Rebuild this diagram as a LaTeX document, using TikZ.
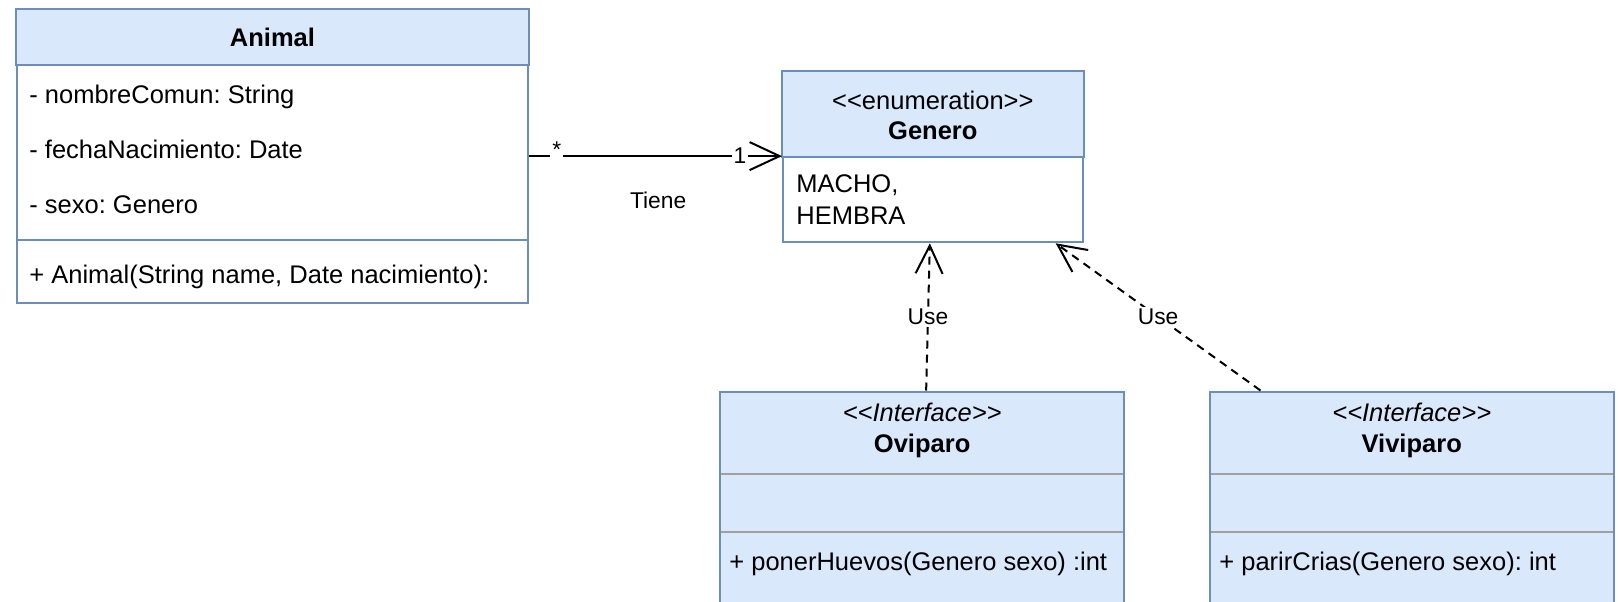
\documentclass[tikz,border=0pt]{standalone}
\usepackage{fontspec}
\setmainfont{Liberation Sans}[Ligatures=TeXOff]
\usetikzlibrary{arrows.meta}
\frenchspacing
\definecolor{umlfill}{HTML}{DAE8FC}
\definecolor{umlline}{HTML}{6C8EBF}
\definecolor{sepgray}{HTML}{A0A0A0}
\newcommand{\bodyfnt}{\fontsize{12.75}{15.3}\selectfont}
\newcommand{\lblfnt}{\fontsize{11.4}{13.6}\selectfont}
\begin{document}
\begin{tikzpicture}[x=0.5pt,y=-0.5pt,
  every node/.style={font=\bodyfnt, text=black},
  umlbox/.style={draw=umlline, line width=1pt, rectangle, inner sep=0pt},
  headbox/.style={draw=umlline, fill=umlfill, line width=1pt},
  sepline/.style={draw=sepgray, line width=1pt},
  txt/.style={anchor=base west, inner sep=0pt},
  ctxt/.style={anchor=base, inner sep=0pt},
  lbl/.style={font=\lblfnt, fill=white, inner sep=1pt},
  plainlbl/.style={font=\lblfnt, inner sep=1pt},
  assoc/.style={draw=black, line width=1pt, -{Straight Barb[length=15pt,width=14pt]}},
  dep/.style={draw=black, line width=1pt, dash pattern=on 4pt off 3pt, -{Straight Barb[length=14pt,width=13.5pt]}}]
\useasboundingbox (0,0) rectangle (1624,601);
\clip (0,0) rectangle (1624,601);

% boxes
\node[umlbox, fill=white, minimum width=255.8pt, minimum height=146.6pt] (animal) at (272.5,156.1) {};
\node[umlbox, fill=white, minimum width=149.85pt, minimum height=85.4pt] (genero) at (932.85,156.9) {};
\node[umlbox, fill=umlfill, minimum width=202.15pt, minimum height=124.25pt] (ovi) at (922.15,515.75) {};
\node[umlbox, fill=umlfill, minimum width=202.25pt, minimum height=124.25pt] (vivi) at (1411.75,515.75) {};

% headers and separators
\draw[headbox] (animal.north west) rectangle (animal.east |- 0,64.5);
\draw[umlbox] (animal.west |- 0,240) -- (animal.east |- 0,240);
\draw[headbox] (genero.north west) rectangle (genero.east |- 0,156.9);

\draw[sepline] ([xshift=1pt]ovi.west |- 0,474.4) -- ([xshift=-1pt]ovi.east |- 0,474.4);
\draw[sepline] ([xshift=1pt]ovi.west |- 0,532.4) -- ([xshift=-1pt]ovi.east |- 0,532.4);
\draw[sepline] ([xshift=1pt]vivi.west |- 0,474.4) -- ([xshift=-1pt]vivi.east |- 0,474.4);
\draw[sepline] ([xshift=1pt]vivi.west |- 0,532.4) -- ([xshift=-1pt]vivi.east |- 0,532.4);

% Animal texts
\node[ctxt, font=\bodyfnt\bfseries] (animaltitle) at (272.5,46) {Animal};
\node[txt] (attr1) at (29,103) {- nombreComun: String};
\node[txt] (attr2) at (29,158) {- fechaNacimiento: Date};
\node[txt] (attr3) at (29,213) {- sexo: Genero};
\node[txt] (meth1) at (29,283) {+ Animal(String name, Date nacimiento):};

% Genero texts
\node[ctxt] (genstereo) at (932.85,109) {<<enumeration>>};
\node[ctxt, font=\bodyfnt\bfseries] (gentitle) at (932.85,139) {Genero};
\node[txt] (lit1) at (796,192) {MACHO,};
\node[txt] (lit2) at (796,224) {HEMBRA};

% Oviparo texts
\node[ctxt, font=\bodyfnt\itshape] (ovistereo) at (922.15,421.7) {<<Interface>>};
\node[ctxt, font=\bodyfnt\bfseries] (ovititle) at (922.15,452.3) {Oviparo};
\node[txt] (ovimeth) at (729,570.5) {+ ponerHuevos(Genero sexo) :int};

% Viviparo texts
\node[ctxt, font=\bodyfnt\itshape] (vivistereo) at (1411.75,421.7) {<<Interface>>};
\node[ctxt, font=\bodyfnt\bfseries] (vivititle) at (1411.75,452.3) {Viviparo};
\node[txt] (vivimeth) at (1219,570.5) {+ parirCrias(Genero sexo): int};

% connectors
\draw[assoc] (animal.east) -- (animal.east -| genero.west)
  node[lbl, pos=0.109, yshift=3pt] {*}
  node[lbl, pos=0.834] {1}
  node[plainlbl, pos=0.51, yshift=-22pt] {Tiene};
\draw[dep] ([xshift=2pt]ovi.north) -- ([xshift=-1.5pt]genero.south)
  node[lbl, pos=0.5] {Use};
\draw[dep] ([xshift=26pt]vivi.north west) -- ([xshift=-14pt]genero.south east)
  node[lbl, pos=0.5] {Use};
\end{tikzpicture}
\end{document}
